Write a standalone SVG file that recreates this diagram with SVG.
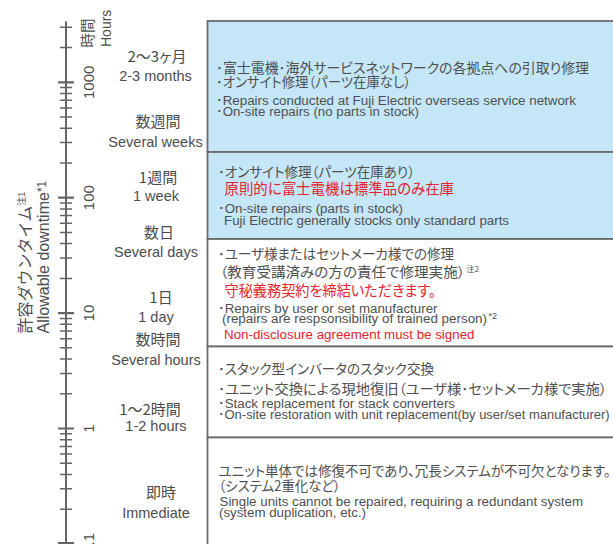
<svg xmlns="http://www.w3.org/2000/svg" width="613" height="544" viewBox="0 0 613 544">
<style>
.ax{stroke:#666;stroke-width:2;fill:none}
.mj{stroke:#666;stroke-width:2.2}
.mn{stroke:#666;stroke-width:1.5}
.num{font-family:"Liberation Sans",Arial,sans-serif;font-size:15px;fill:#4d4d4d}
.lj{font-family:"Noto Sans CJK JP",sans-serif;font-size:15px;fill:#4d4d4d;text-anchor:middle;font-feature-settings:"palt"}
.le{font-family:"Liberation Sans",Arial,sans-serif;font-size:14.5px;fill:#4d4d4d;text-anchor:middle}
.blue{fill:#c4e6f7;stroke:#6b6b6b;stroke-width:1.8}
.white{fill:#ffffff;stroke:#6b6b6b;stroke-width:1.8}
.j{font-family:"Noto Sans CJK JP",sans-serif;font-size:14px;fill:#505050;font-feature-settings:"palt"}
.jr{font-family:"Noto Sans CJK JP",sans-serif;font-size:15px;fill:#e8232b;font-feature-settings:"palt"}
.e{font-family:"Liberation Sans",Arial,"Noto Sans CJK JP",sans-serif;font-size:12px;fill:#505050}
.er{font-family:"Liberation Sans",Arial,sans-serif;font-size:12px;fill:#e8232b}
.sup{font-family:"Noto Sans CJK JP",sans-serif;font-size:8px;fill:#505050}
.supe{font-family:"Liberation Sans",Arial,sans-serif;font-size:9px;fill:#505050}
</style>

<g id="axis">
<line class="ax" x1="66" y1="21.5" x2="66" y2="544"/>
<path class="mj" d="M58 82.3H74M58 197.7H74M58 313.1H74M58 428.5H74M58 543H74"/>
<path class="mn" d="M60 27.2H72M60 47.6H72
M60 87.6H72M60 93.5H72M60 100.2H72M60 107.9H72M60 117H72M60 128.2H72M60 142.6H72M60 163H72
M60 203H72M60 208.9H72M60 215.6H72M60 223.3H72M60 232.4H72M60 243.6H72M60 258H72M60 278.4H72
M60 318.4H72M60 324.3H72M60 331H72M60 338.7H72M60 347.8H72M60 359H72M60 373.4H72M60 393.8H72
M60 433.8H72M60 439.7H72M60 446.4H72M60 454.1H72M60 463.2H72M60 474.4H72M60 488.8H72M60 509.2H72"/>
<text class="num" text-anchor="middle" transform="translate(93.5,82.3) rotate(-90)">1000</text>
<text class="num" text-anchor="middle" transform="translate(93.5,197.7) rotate(-90)">100</text>
<text class="num" text-anchor="middle" transform="translate(93.5,313.1) rotate(-90)">10</text>
<text class="num" text-anchor="middle" transform="translate(93.5,428.5) rotate(-90)">1</text>
<text class="num" text-anchor="end" transform="translate(93.5,533) rotate(-90)">0.1</text>
<text font-family="Noto Sans CJK JP,sans-serif" font-size="14.5" fill="#4d4d4d" transform="translate(93,47.5) rotate(-90)">時間</text>
<text font-family="Liberation Sans,Arial,sans-serif" font-size="14" fill="#4d4d4d" transform="translate(110.5,47) rotate(-90)">Hours</text>
<text font-family="Noto Sans CJK JP,sans-serif" font-size="16" fill="#4d4d4d" transform="translate(30.7,333.5) rotate(-90)">許容ダウンタイム<tspan font-size="9" dy="-6">注1</tspan></text>
<text font-family="Liberation Sans,Arial,sans-serif" font-size="16" fill="#4d4d4d" transform="translate(48.5,333.5) rotate(-90)">Allowable downtime<tspan font-size="12" dy="-3">*1</tspan></text>
</g>

<g id="labels">
<text class="lj" x="157" y="62">2〜3ヶ月</text>
<text class="le" x="155.5" y="81">2-3 months</text>
<text class="lj" x="158" y="127">数週間</text>
<text class="le" x="155.5" y="147">Several weeks</text>
<text class="lj" x="158" y="183">1週間</text>
<text class="le" x="156" y="201">1 week</text>
<text class="lj" x="159" y="238">数日</text>
<text class="le" x="156" y="257">Several days</text>
<text class="lj" x="161" y="303">1日</text>
<text class="le" x="156" y="322">1 day</text>
<text class="lj" x="158" y="345">数時間</text>
<text class="le" x="156" y="365">Several hours</text>
<text class="lj" x="150" y="415">1〜2時間</text>
<text class="le" x="156" y="431">1-2 hours</text>
<text class="lj" x="161" y="498">即時</text>
<text class="le" x="156" y="518">Immediate</text>
</g>

<g id="box1">
<rect class="blue" x="207.5" y="21" width="420" height="131"/>
<text class="j" x="216" y="72.5" textLength="373" lengthAdjust="spacingAndGlyphs">･富士電機･海外サービスネットワークの各拠点への引取り修理</text>
<text class="j" x="216" y="87" textLength="195" lengthAdjust="spacingAndGlyphs">･オンサイト修理（パーツ在庫なし）</text>
<text class="e" x="216" y="105" textLength="360" lengthAdjust="spacingAndGlyphs">･Repairs conducted at Fuji Electric overseas service network</text>
<text class="e" x="216" y="115.5" textLength="203" lengthAdjust="spacingAndGlyphs">･On-site repairs (no parts in stock)</text>
</g>

<g id="box2">
<rect class="blue" x="207.5" y="152" width="420" height="87"/>
<text class="j" x="218" y="177" textLength="197" lengthAdjust="spacingAndGlyphs">･オンサイト修理（パーツ在庫あり）</text>
<text class="jr" x="224.5" y="194" textLength="229.5" lengthAdjust="spacingAndGlyphs">原則的に富士電機は標準品のみ在庫</text>
<text class="e" x="218" y="213" textLength="185" lengthAdjust="spacingAndGlyphs">･On-site repairs (parts in stock)</text>
<text class="e" x="224" y="224.5" textLength="285" lengthAdjust="spacingAndGlyphs">Fuji Electric generally stocks only standard parts</text>
</g>

<g id="box3">
<rect class="white" x="207.5" y="239" width="420" height="107.5"/>
<text class="j" x="218" y="259" textLength="236" lengthAdjust="spacingAndGlyphs">･ユーザ様またはセットメーカ様での修理</text>
<text class="j" x="220" y="277" textLength="245" lengthAdjust="spacingAndGlyphs">（教育受講済みの方の責任で修理実施）</text>
<text class="sup" x="466.5" y="272">注2</text>
<text class="jr" x="224.5" y="296" textLength="211.5" lengthAdjust="spacingAndGlyphs">守秘義務契約を締結いただきます。</text>
<text class="e" x="218" y="312.5" textLength="219.5" lengthAdjust="spacingAndGlyphs">･Repairs by user or set manufacturer</text>
<text class="e" x="222" y="323" textLength="265" lengthAdjust="spacingAndGlyphs">(repairs are respsonsibility of trained person)</text>
<text class="supe" x="488.5" y="319">*2</text>
<text class="er" x="224" y="339" textLength="250.5" lengthAdjust="spacingAndGlyphs">Non-disclosure agreement must be signed</text>
</g>

<g id="box4">
<rect class="white" x="207.5" y="346.5" width="420" height="91"/>
<text class="j" x="218" y="374" textLength="216" lengthAdjust="spacingAndGlyphs">･スタック型インバータのスタック交換</text>
<text class="j" x="218" y="394" textLength="389" lengthAdjust="spacingAndGlyphs">･ユニット交換による現地復旧（ユーザ様･セットメーカ様で実施）</text>
<text class="e" x="218" y="408" textLength="237" lengthAdjust="spacingAndGlyphs">･Stack replacement for stack converters</text>
<text class="e" x="218" y="419" textLength="391.7" lengthAdjust="spacingAndGlyphs">･On-site restoration with unit replacement(by user/set manufacturer)</text>
</g>

<g id="box5">
<rect class="white" x="207.5" y="437.5" width="420" height="120"/>
<text class="j" x="218.5" y="476" textLength="392" lengthAdjust="spacingAndGlyphs">ユニット単体では修復不可であり、冗長システムが不可欠となります。</text>
<text class="j" x="218.5" y="491" textLength="122" lengthAdjust="spacingAndGlyphs">（システム2重化など）</text>
<text class="e" x="219.5" y="506" textLength="363.5" lengthAdjust="spacingAndGlyphs">Single units cannot be repaired, requiring a redundant system</text>
<text class="e" x="219" y="517" textLength="147" lengthAdjust="spacingAndGlyphs">(system duplication, etc.)</text>
</g>
</svg>
